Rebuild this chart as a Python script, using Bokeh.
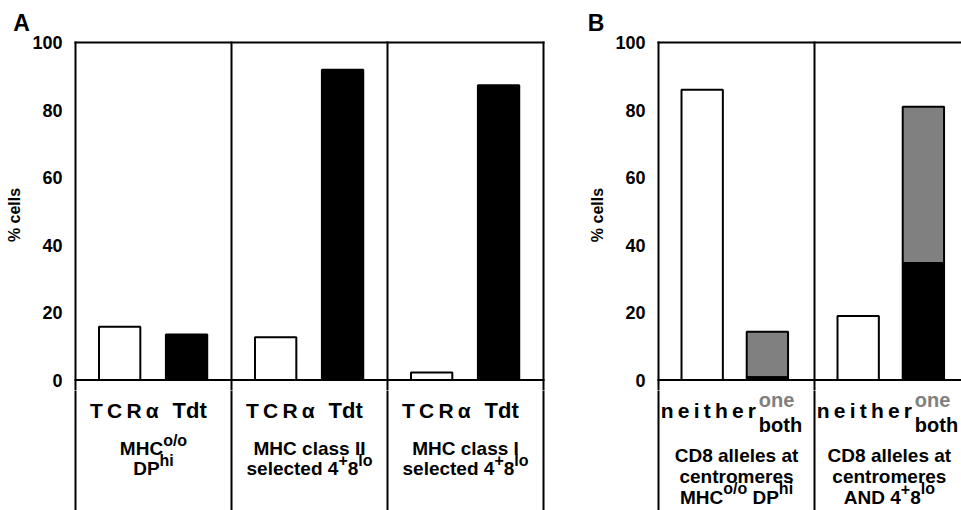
from bokeh.plotting import figure
from bokeh.layouts import row, column
from bokeh.models import Range1d, FixedTicker
from bokeh.embed import file_html
from bokeh.resources import INLINE
from bokeh.core.properties import value

# ---------------- data ----------------
# Panel A
bar_names_a = ["TCRα", "Tdt"]
tcra_pct = [15.8, 12.7, 2.2]
tdt_pct = [13.5, 91.9, 87.3]
group_lines_a = [
    [[("MHC", False), ("o/o", True)], [("DP", False), ("hi", True)]],
    [[("MHC class II", False)], [("selected 4", False), ("+", True), ("8", False), ("lo", True)]],
    [[("MHC class I", False)], [("selected 4", False), ("+", True), ("8", False), ("lo", True)]],
]
# Panel B
bar_names_b = ["neither", "one", "both"]
neither_pct = [86.0, 19.0]
one_pct = [13.5, 46.3]
both_pct = [0.8, 34.7]
group_lines_b = [
    [[("CD8 alleles at", False)], [("centromeres", False)],
     [("MHC", False), ("o/o", True), (" DP", False), ("hi", True)]],
    [[("CD8 alleles at", False)], [("centromeres", False)],
     [("AND 4", False), ("+", True), ("8", False), ("lo", True)]],
]
y_ticks = [0, 20, 40, 60, 80, 100]
y_label = "% cells"
panel_letters = ["A", "B"]

# ---------------- styling ----------------
FONT = "Liberation Sans"
PX = 156.0      # px per group unit
PY = 3.375      # px per percent
H = 510
TOP = 39
FRAME_T = 351
H_T = TOP + FRAME_T
H_B = H - H_T
Y1 = 100 + 3 / PY
Y_LO = Y1 - FRAME_T / PY
YB0 = Y_LO - H_B / PY
GRAY = "#808080"
BW = 0.265
FIX = 7 / PY    # baseline correction for text glyphs


def yb(img_y):
    """image-pixel baseline -> data y (below-zero label area)"""
    return (379.5 - img_y) / PY + FIX


# Arial/Liberation Sans Bold advance widths (1/1000 em)
ADV = {' ': 278, '+': 584, '/': 278, '4': 556, '8': 556, 'A': 722, 'C': 722, 'D': 722,
       'H': 722, 'I': 278, 'M': 833, 'N': 722, 'P': 667, 'a': 556, 'c': 556, 'd': 611,
       'e': 556, 'h': 611, 'i': 278, 'l': 278, 'o': 611, 's': 556, 't': 333, 'n': 611,
       'm': 889, 'r': 389}


def tw(s, size):
    return sum(ADV.get(c, 556) for c in s) * size / 1000.0


def spaced(s):
    return "\u2009".join(s)


def rich_line(p, xc, y, runs, main=19, sup=16, rise=8.3):
    sizes = [sup if s else main for _, s in runs]
    total = sum(tw(t, sz) for (t, _), sz in zip(runs, sizes))
    off = -total / 2
    for (t, s), sz in zip(runs, sizes):
        lead = len(t) - len(t.lstrip(" "))
        shown = t.strip(" ")
        p.text(x=[xc], y=[y + (rise / PY if s else 0)], text=[shown],
               x_offset=off + tw(" " * lead, sz),
               text_align="left", text_baseline="alphabetic",
               text_font=value(FONT), text_font_style="bold",
               text_font_size=f"{sz}px", text_color="black")
        off += tw(t, sz)


def make_top(width, bl, br, x0, x1, letter, letter_px):
    p = figure(width=width, height=H_T, x_range=Range1d(x0, x1), y_range=Range1d(Y_LO, Y1),
               x_axis_type=None, toolbar_location=None, output_backend="svg",
               min_border_left=bl, min_border_right=br, min_border_top=TOP,
               min_border_bottom=0, background_fill_color="white",
               border_fill_color="white", outline_line_color=None, title=letter)
    p.title.align = "left"
    p.title.offset = letter_px
    p.title.standoff = 7
    p.title.text_font = FONT
    p.title.text_font_style = "bold"
    p.title.text_font_size = "23px"
    p.title.text_color = "black"
    p.ygrid.grid_line_color = None
    ax = p.yaxis[0]
    ax.ticker = FixedTicker(ticks=y_ticks)
    ax.axis_line_color = None
    ax.major_tick_line_color = None
    ax.minor_tick_line_color = None
    ax.major_tick_out = 0
    ax.major_tick_in = 0
    ax.major_label_standoff = 10
    ax.major_label_text_font = FONT
    ax.major_label_text_font_style = "bold"
    ax.major_label_text_font_size = "18px"
    ax.major_label_text_color = "black"
    ax.axis_label = y_label
    ax.axis_label_standoff = 6
    ax.axis_label_text_font = FONT
    ax.axis_label_text_font_style = "bold"
    ax.axis_label_text_font_size = "16px"
    ax.axis_label_text_color = "black"
    return p


def make_bottom(width, bl, br, x0, x1):
    p = figure(width=width, height=H_B, x_range=Range1d(x0, x1), y_range=Range1d(YB0, Y_LO),
               x_axis_type=None, y_axis_type=None, toolbar_location=None,
               output_backend="svg", min_border_left=bl, min_border_right=br,
               min_border_top=0, min_border_bottom=0, background_fill_color="white",
               border_fill_color="white", outline_line_color=None)
    return p


def frame_lines(pt, pbm, n_groups, x_end):
    xs0 = list(range(n_groups + 1))
    pt.segment(x0=xs0, y0=[Y_LO - 1] * len(xs0), x1=xs0, y1=[100] * len(xs0),
               line_color="black", line_width=2, line_cap="square")
    pt.segment(x0=[0, 0], y0=[100, 0], x1=[x_end, x_end], y1=[100, 0],
               line_color="black", line_width=2, line_cap="square")
    pbm.segment(x0=xs0, y0=[YB0 - 1] * len(xs0), x1=xs0, y1=[Y_LO + 1] * len(xs0),
                line_color="black", line_width=2)


pad = 3 / PX

# ---------------- panel A ----------------
WA = 568
bla = 72
pa_t = make_top(WA, bla, 22, -pad, 3 + pad, panel_letters[0], 15.7 - 75)
pa_b = make_bottom(WA, bla, 22, -pad, 3 + pad)
na = len(tcra_pct)
xa_w = [i + 0.283 for i in range(na)]
xa_b = [i + 0.712 for i in range(na)]
pa_t.vbar(x=xa_w, top=tcra_pct, bottom=0, width=BW, fill_color="white",
          line_color="black", line_width=2)
pa_t.vbar(x=xa_b, top=tdt_pct, bottom=0, width=BW, fill_color="black",
          line_color="black", line_width=2)
frame_lines(pa_t, pa_b, na, 3)
pa_b.text(x=[x + 0.03 for x in xa_w], y=[yb(416.7)] * na, text=[spaced(bar_names_a[0])] * na,
          text_align="center", text_baseline="alphabetic", text_font=value(FONT),
          text_font_style="bold", text_font_size="21px", text_color="black")
pa_b.text(x=[x + 0.02 for x in xa_b], y=[yb(416.7)] * na, text=[bar_names_a[1]] * na,
          text_align="center", text_baseline="alphabetic", text_font=value(FONT),
          text_font_style="bold", text_font_size="22px", text_color="black")
for i, lines in enumerate(group_lines_a):
    for runs, by in zip(lines, [455.0, 475.0]):
        rich_line(pa_b, i + 0.5, yb(by), runs)

# ---------------- panel B ----------------
WB = 961 - WA
blb = 87
xb_end = -pad + (WB - blb) / PX
pb_t = make_top(WB, blb, 0, -pad, xb_end, panel_letters[1], 590 - 657.7)
pb_b = make_bottom(WB, blb, 0, -pad, xb_end)
nb = len(neither_pct)
xb_w = [i + 0.28 for i in range(nb)]
xb_s = [i + 0.698 for i in range(nb)]
pb_t.vbar(x=xb_w, top=neither_pct, bottom=0, width=BW, fill_color="white",
          line_color="black", line_width=2)
pb_t.vbar(x=xb_s, top=[b + o for b, o in zip(both_pct, one_pct)], bottom=both_pct, width=BW,
          fill_color=GRAY, line_color="black", line_width=2)
pb_t.vbar(x=xb_s, top=both_pct, bottom=0, width=BW, fill_color="black",
          line_color="black", line_width=2)
frame_lines(pb_t, pb_b, nb, 2)
pb_b.text(x=[x + 0.04 for x in xb_w], y=[yb(416.7)] * nb, text=[spaced(bar_names_b[0])] * nb,
          text_align="center", text_baseline="alphabetic", text_font=value(FONT),
          text_font_style="bold", text_font_size="21px", text_color="black")
pb_b.text(x=[x - 0.055 for x in xb_s], y=[yb(406.7)] * nb, text=[bar_names_b[1]] * nb,
          text_align="left", text_baseline="alphabetic", text_font=value(FONT),
          text_font_style="bold", text_font_size="20px", text_color=GRAY)
pb_b.text(x=[x - 0.055 for x in xb_s], y=[yb(431.7)] * nb, text=[bar_names_b[2]] * nb,
          text_align="left", text_baseline="alphabetic", text_font=value(FONT),
          text_font_style="bold", text_font_size="20px", text_color="black")
for i, lines in enumerate(group_lines_b):
    xc = i + (0.5 if i == 0 else 0.48)
    for runs, by in zip(lines, [461.7, 483.3, 503.5]):
        rich_line(pb_b, xc, yb(by), runs)

layout = row(column(pa_t, pa_b, spacing=0), column(pb_t, pb_b, spacing=0), spacing=0)
open("out.html", "w").write(file_html(layout, INLINE))
